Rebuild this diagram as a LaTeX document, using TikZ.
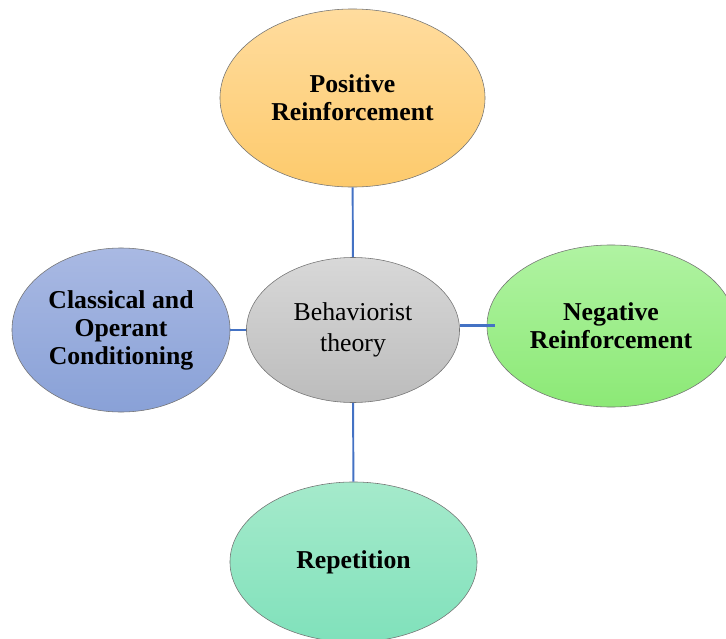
\documentclass[tikz,border=0pt]{standalone}
\usepackage{fontspec}
\setmainfont{Liberation Serif}
\usetikzlibrary{shapes,positioning}

\definecolor{posTop}{HTML}{FFDC9E}
\definecolor{posBot}{HTML}{FDCA6C}
\definecolor{negTop}{HTML}{B0F3A2}
\definecolor{negBot}{HTML}{8CE976}
\definecolor{condTop}{HTML}{A9B9E3}
\definecolor{condBot}{HTML}{89A1D7}
\definecolor{repTop}{HTML}{A5EACB}
\definecolor{repBot}{HTML}{80E1BB}
\definecolor{thTop}{HTML}{D8D8D8}
\definecolor{thBot}{HTML}{BCBCBC}
\definecolor{link}{HTML}{4472C4}

\begin{document}
\begin{tikzpicture}[x=0.025cm, y=-0.025cm,
  bubble/.style={ellipse, draw=black!55, thin, inner sep=0pt, align=center,
    font=\fontsize{18.3}{19.9}\selectfont\bfseries},
  conn/.style={draw=link, line width=1.4pt}]
\clip (0,0) rectangle (726,639);
\node[bubble, top color=thTop, bottom color=thBot, minimum width=5.325cm, minimum height=3.625cm,
  font=\fontsize{18.3}{22}\selectfont] (theory) at (353,330) {Behaviorist\\theory};
\node[bubble, top color=posTop, bottom color=posBot, minimum width=6.625cm, minimum height=4.45cm] (pos) at (352.5,98) {Positive\\Reinforcement};
\node[bubble, top color=condTop, bottom color=condBot, minimum width=5.45cm, minimum height=4.1cm] (cond) at (121,330) {Classical and\\Operant\\Conditioning};
\node[bubble, top color=negTop, bottom color=negBot, minimum width=6.2cm, minimum height=4.05cm] (neg) at (611,326) {Negative\\Reinforcement};
\node[bubble, top color=repTop, bottom color=repBot, minimum width=6.175cm, minimum height=4.0cm] (rep) at (353.5,562) {Repetition};
\draw[conn] (pos) -- (theory);
\draw[conn] (theory) -- (rep);
\draw[conn, line width=1.1pt] (cond) -- (theory);
\draw[conn, line width=2.1pt, shorten >=-0.2cm] ([yshift=0.12cm]theory.east) -- ([yshift=0.12cm]theory.east -| neg.west);
\end{tikzpicture}
\end{document}
